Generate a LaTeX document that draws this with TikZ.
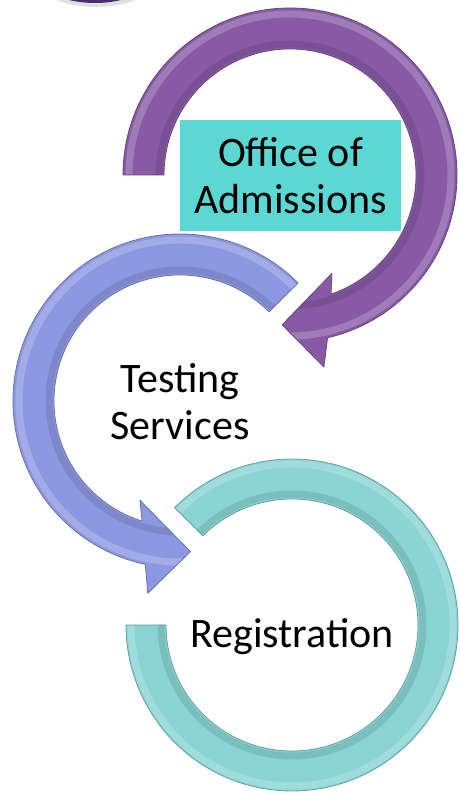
\documentclass[tikz,border=0pt]{standalone}
\usepackage{fontspec}
\setmainfont{Carlito}
\usetikzlibrary{calc}

\definecolor{admpurple}{RGB}{136,90,166}
\definecolor{testblue}{RGB}{140,152,226}
\definecolor{regteal}{RGB}{138,212,212}
\definecolor{boxteal}{RGB}{91,216,212}
\definecolor{darkplum}{RGB}{76,44,112}

\begin{document}
\begin{tikzpicture}[x=1pt,y=1pt,
    ring/.style 2 args={fill=#1, draw=#1!75!black, line width=0.8pt, line join=round,
        path picture={
            \draw[white, opacity=.2, line width=7pt] (#2) circle[radius=161];
            \draw[black, opacity=.1, line width=7pt] (#2) circle[radius=131];
        }},
    steplabel/.style={font=\fontsize{42}{47}\selectfont, align=center, inner sep=0pt}]
    \useasboundingbox (0,0) rectangle (459,798);
    \clip (0,0) rectangle (459,798);

    \coordinate (admctr) at (290,623);
    \coordinate (testctr) at (180,397);
    \coordinate (regctr) at (292,173);

    % step before, cut off by the top edge
    \fill[black!12] (96,837) ellipse[x radius=75, y radius=46];
    \fill[darkplum] (95,841) ellipse[x radius=73, y radius=46];

    % registration
    \draw[ring={regteal}{regctr}, shift={(regctr)}]
        (135:166) arc[start angle=135, end angle=-180, radius=166]
        -- (180:126) arc[start angle=-180, end angle=135, radius=126]
        -- cycle;

    % testing services
    \draw[ring={testblue}{testctr}, shift={(testctr)}]
        (45:167) arc[start angle=45, end angle=258, radius=167]
        -- (260.5:195) -- (274:151) -- (248:107) -- (252.5:126)
        arc[start angle=252.5, end angle=45, radius=126]
        -- cycle;

    % office of admissions
    \draw[ring={admpurple}{admctr}, shift={(admctr)}]
        (180:167) arc[start angle=180, end angle=-77, radius=167]
        -- (-80:195) -- (-93:150) -- (-67:107) -- (-71:126)
        arc[start angle=-71, end angle=180, radius=126]
        -- cycle;

    \node[steplabel, fill=boxteal, minimum width=221, minimum height=111]
        (admissions) at (290.5,622.5) {Office of\\Admissions};
    \node[steplabel] (testing) at ($(testctr)+(0,-0.5)$) {Testing\\Services};
    \node[steplabel, anchor=base] (registration) at ($(regctr)+(0,-23)$) {Registration};
\end{tikzpicture}
\end{document}
